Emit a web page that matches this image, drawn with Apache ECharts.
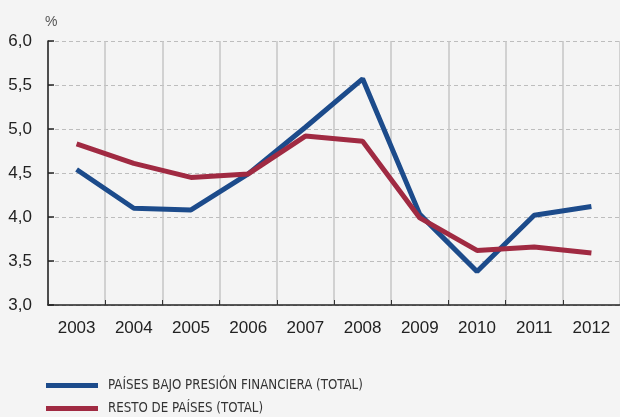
<!DOCTYPE html>
<html>
<head>
<meta charset="utf-8">
<script src="https://cdn.jsdelivr.net/npm/echarts@6/dist/echarts.min.js"></script>
<style>
html,body{margin:0;padding:0;background:#f4f4f4;}
#c{width:620px;height:417px;}
</style>
</head>
<body>
<div id="c"></div>
<script>
const categories = ['2003','2004','2005','2006','2007','2008','2009','2010','2011','2012'];
const seriesNames = ['PAÍSES BAJO PRESIÓN FINANCIERA (TOTAL)', 'RESTO DE PAÍSES (TOTAL)'];
const bajoPresion = [4.54, 4.10, 4.08, 4.49, 5.02, 5.57, 4.03, 3.38, 4.02, 4.12];
const restoPaises = [4.83, 4.61, 4.45, 4.49, 4.92, 4.86, 3.99, 3.62, 3.66, 3.59];
const yTicks = [3.0, 3.5, 4.0, 4.5, 5.0, 5.5, 6.0];

// pick a condensed font if available
const cv = document.createElement('canvas').getContext('2d');
const sample = seriesNames[0];
cv.font = '14px "Liberation Sans Narrow", monospace';
const wNarrow = cv.measureText(sample).width;
cv.font = '14px monospace';
const wMono = cv.measureText(sample).width;
let legendFont = '"Liberation Sans Narrow"', legendSize = 14;
if (Math.abs(wNarrow - wMono) < 0.5) {
  cv.font = '14px "DejaVu Sans Condensed", monospace';
  const wDC = cv.measureText(sample).width;
  if (Math.abs(wDC - wMono) > 0.5) { legendFont = '"DejaVu Sans Condensed"'; legendSize = 14 * 255 / wDC; }
  else { legendFont = '"Liberation Sans"'; cv.font = '14px "Liberation Sans"'; legendSize = 14 * 255 / cv.measureText(sample).width; }
} else {
  legendSize = 14 * 255 / wNarrow;
}

const chart = echarts.init(document.getElementById('c'), null, {renderer:'canvas'});
const legendCommon = {
  orient: 'vertical', left: 46, itemWidth: 52, itemHeight: 5, itemGap: 9, icon: 'rect', padding: 0,
  textStyle: {fontFamily: legendFont, fontSize: legendSize, color: '#333', padding: [0,0,0,5]}
};
chart.setOption({
  backgroundColor: '#f4f4f4',
  animation: false,
  textStyle: {fontFamily: 'Liberation Sans, Arial, sans-serif'},
  grid: {left: 48, right: 0, top: 41, bottom: 112, containLabel: false},
  title: {text: '%', left: 40, top: 10, textStyle: {fontSize: 14, fontWeight: 'normal', color: '#555', fontFamily: 'Liberation Sans, Arial'}},
  legend: [
    Object.assign({}, legendCommon, {top: 379, data: [seriesNames[0]]}),
    Object.assign({}, legendCommon, {top: 402, data: [seriesNames[1]]})
  ],
  xAxis: {
    type: 'category', data: categories, boundaryGap: true,
    axisLine: {lineStyle: {color: '#222', width: 1.5}},
    axisTick: {show: true, inside: true, length: 5, alignWithLabel: false, lineStyle: {color: '#333'}},
    splitLine: {show: true, lineStyle: {color: '#c6c6c6', width: 1.5}},
    axisLabel: {color: '#222', fontSize: 17, margin: 15}
  },
  yAxis: {
    type: 'value', min: yTicks[0], max: yTicks[yTicks.length-1], interval: 0.5,
    axisLine: {show: true, lineStyle: {color: '#222', width: 1.5}},
    axisTick: {show: true, inside: true, length: 6, lineStyle: {color: '#222', width: 1.5}},
    splitLine: {show: true, lineStyle: {color: '#bdbdbd', type: [4, 3], width: 1}},
    axisLabel: {color: '#222', fontSize: 17, margin: 16, formatter: v => v.toFixed(1).replace('.', ',')}
  },
  series: [
    {name: seriesNames[0], type: 'line', data: bajoPresion, symbol: 'none', lineStyle: {color: '#1c4b8b', width: 5}, itemStyle: {color: '#1c4b8b'}, z: 3},
    {name: seriesNames[1], type: 'line', data: restoPaises, symbol: 'none', lineStyle: {color: '#a02a42', width: 5}, itemStyle: {color: '#a02a42'}, z: 4}
  ]
});
</script>
</body>
</html>
